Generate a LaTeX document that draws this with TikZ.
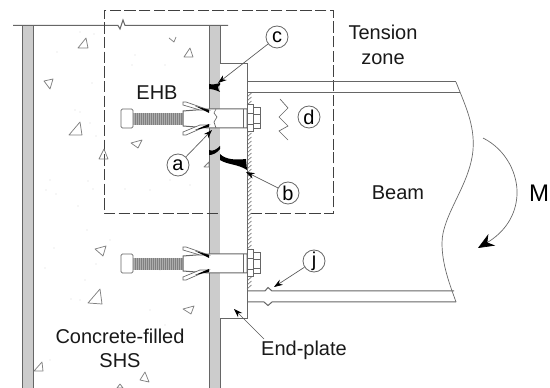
\documentclass[tikz,border=0pt]{standalone}
\usepackage{fontspec}
\setmainfont{Liberation Sans}
\usetikzlibrary{arrows.meta}
\definecolor{ln}{gray}{0.4}
\definecolor{wall}{gray}{0.8}
\tikzset{
  x=0.75pt,y=-0.75pt,
  outl/.style={draw=ln,line width=0.75pt},
  thinln/.style={draw=ln,line width=0.5pt},
  circ/.style={circle,draw=ln,fill=white,line width=0.6pt,minimum size=16.5pt,inner sep=0pt,font=\fontsize{15}{15}\selectfont},
  lab/.style={font=\fontsize{15}{18.5}\selectfont,align=center,text=black!90},
  lead/.style={draw=black!65,line width=0.5pt,-{Stealth[length=6.5pt,width=4.5pt,black]}},
  zone/.style={draw=black!75,line width=0.6pt,dash pattern=on 8.5pt off 2.5pt},
  agg/.style={draw=black!50,line width=0.55pt,line join=round}
}
\newcommand{\ehbbolt}[1]{%
\begin{scope}[shift={(0,#1)}]
  \fill[black!32] (133,113) rectangle (183,125);
  \foreach \tx in {135,137,...,181} \draw[black!50,line width=0.3pt] (\tx,113) -- (\tx,125);
  \draw[thinln,fill=white,rounded corners=1pt] (121,109) rectangle (133,128);
  \fill[white] (209,109) rectangle (247,128);
  \draw[outl,fill=white] (183,111) -- (209,109) -- (247,109) -- (247,128) -- (209,128) -- (183,126) -- cycle;
  \draw[thinln] (243,109) -- (243,128);
  \draw[thinln,fill=white] (183,102) -- (186,102) -- (209,110) -- (200,110) -- (183,105) -- cycle;
  \draw[thinln,fill=white] (183,135) -- (186,135) -- (209,125) -- (200,125) -- (183,132) -- cycle;
  \fill[black] (195,106) -- (209,110) -- (209,113) -- cycle;
  \fill[black] (195,130) -- (209,124) -- (209,127) -- cycle;
  \draw[outl,fill=white] (247,105) rectangle (253,132);
  \draw[thinln] (247,113) -- (253,113) (247,124) -- (253,124);
  \draw[outl,fill=white] (253,108) rectangle (260,129);
  \draw[thinln] (253,114) -- (260,114) (253,123) -- (260,123);
\end{scope}}
\newcommand{\aggr}[1]{\draw[agg] #1 -- cycle;}
\begin{document}
\begin{tikzpicture}
\useasboundingbox (0,0) rectangle (550,388);
\fill[white] (0,0) rectangle (550,388);
% concrete specks
\foreach \px/\py in {80/32,94/34,57/52,92/83,75/110,80/112,90/123,96/136,50/180,46/190,88/181,93/189,56/194,78/206,125/189,87/230,110/240,54/248,45/268,96/264,85/280,71/299,80/300,50/360,135/55,165/65,132/65,170/180,150/190,190/185,160/270,165/325,150/310}
  \fill[black!40] (\px,\py) circle (0.35pt);
% SHS walls
\fill[wall] (22,26) rectangle (33,388);
\draw[outl] (22,388) -- (22,26) (33,26) -- (33,388);
\fill[wall] (209,26) rectangle (220,388);
\draw[outl] (209,26) -- (209,388) (220,26) -- (220,388);
% top break line
\draw[outl] (13,25.5) -- (118,25.5) -- (120,29) -- (123,20) -- (125,25.5) -- (228,25.5);
% tension zone
\draw[zone] (333,150) -- (333,10) -- (104,10) -- (104,213) -- (333,213) -- (333,150);
% aggregates
\aggr{(78,48) -- (86,38) -- (88,48)}
\aggr{(44,81) -- (53,79) -- (50,89)}
\aggr{(69,135) -- (80,122) -- (82,135)}
\aggr{(99,159) -- (104,149) -- (108,159)}
\aggr{(95,249) -- (106,246) -- (103,256)}
\aggr{(88,303) -- (100,289) -- (102,304)}
\aggr{(34,371) -- (42,362) -- (43,371)}
\aggr{(183,309) -- (194,306) -- (191,314)}
\aggr{(140,380) -- (145,372) -- (149,382)}
\aggr{(117,388) -- (120,384) -- (123,388)}
\aggr{(184,57) -- (190,48) -- (193,57)}
\aggr{(131,143) -- (142,140) -- (138,148)}
\aggr{(204,167) -- (209,162) -- (209,167)}
\draw[agg] (169,38) -- (174,42) -- (176,37);
% end plate
\draw[outl,fill=white] (220,64) -- (247,64) -- (247,319) -- (220,319);
% beam
\draw[outl] (247,82) -- (456,82);
\draw[thinln] (247,92.5) -- (460,92.5);
\draw[outl] (247,291) -- (262,291) -- (265,291) -- (268,287.5) -- (272,291) -- (454,291);
\draw[outl] (247,302) -- (264,302) -- (268,305.5) -- (272,302) -- (456,302);
\draw[thinln] (456,82) .. controls (465,105) and (475,125) .. (473,150)
  .. controls (470,185) and (442,215) .. (442,243)
  .. controls (442,265) and (450,285) .. (456,302);
% hatching
\foreach \hy in {93,97,...,287}
  \draw[black!55,line width=0.45pt] (247,\hy+4) -- (251.5,\hy);
% bolts
\ehbbolt{0}
\ehbbolt{145}
% crack
\draw[thinln] (216,109) -- (214,113) -- (217,117) -- (214,122) -- (216,128);
% welds
\fill[black] (209,84) .. controls (213,85) and (216,84) .. (220,83) -- (220,85)
  .. controls (217,86) and (218,89) .. (220,92) .. controls (216,90) and (212,89) .. (209,89) -- cycle;
\fill[black] (209,150) .. controls (213,152) and (217,149) .. (220,146) -- (220,149)
  .. controls (216,154) and (212,155) .. (209,155) -- cycle;
\fill[black] (220,154) .. controls (226,160) and (236,160) .. (246,159) -- (247,170)
  .. controls (238,164) and (228,165) .. (220,160) -- cycle;
% zigzag
\draw[thinln] (280,99) -- (288,108) -- (279,117) -- (288,126) -- (279,131) -- (288,140);
% M arrow
\node[font=\fontsize{18}{18}\selectfont] (m) at (539,193) {M};
\coordinate (ms) at (483,138);
\coordinate (me) at (478,248);
\draw[thinln,-{Stealth[length=12pt,width=10pt,black]}] (ms) .. controls (507,150) and (518,175) .. (517,195)
  .. controls (516,215) and (505,232) .. (me);
% labels
\node[lab] (tz) at (383,45) {Tension\\zone};
\node[lab] (ehb) at (157,93) {EHB};
\node[lab] (beam) at (398,193) {Beam};
\node[lab] (cf) at (120,348.5) {Concrete-filled\\SHS};
\node[lab] (ep) at (304,350) {End-plate};
\node[circ] (a) at (178,165) {a};
\node[circ] (b) at (288,193) {b};
\node[circ] (c) at (277,37) {c};
\node[circ] (d) at (309,117) {d};
\node[circ] (j) at (314,261) {j};
\coordinate (ta) at (212,130);
\coordinate (tb) at (246,172);
\coordinate (tc) at (218,83);
\coordinate (tj) at (274,287);
\coordinate (te) at (234,309);
\coordinate (se) at (264,339);
\draw[lead] (a) -- (ta);
\draw[lead] (b) -- (tb);
\draw[lead] (c) -- (tc);
\draw[lead] (j) -- (tj);
\draw[lead] (se) -- (te);
\end{tikzpicture}
\end{document}
